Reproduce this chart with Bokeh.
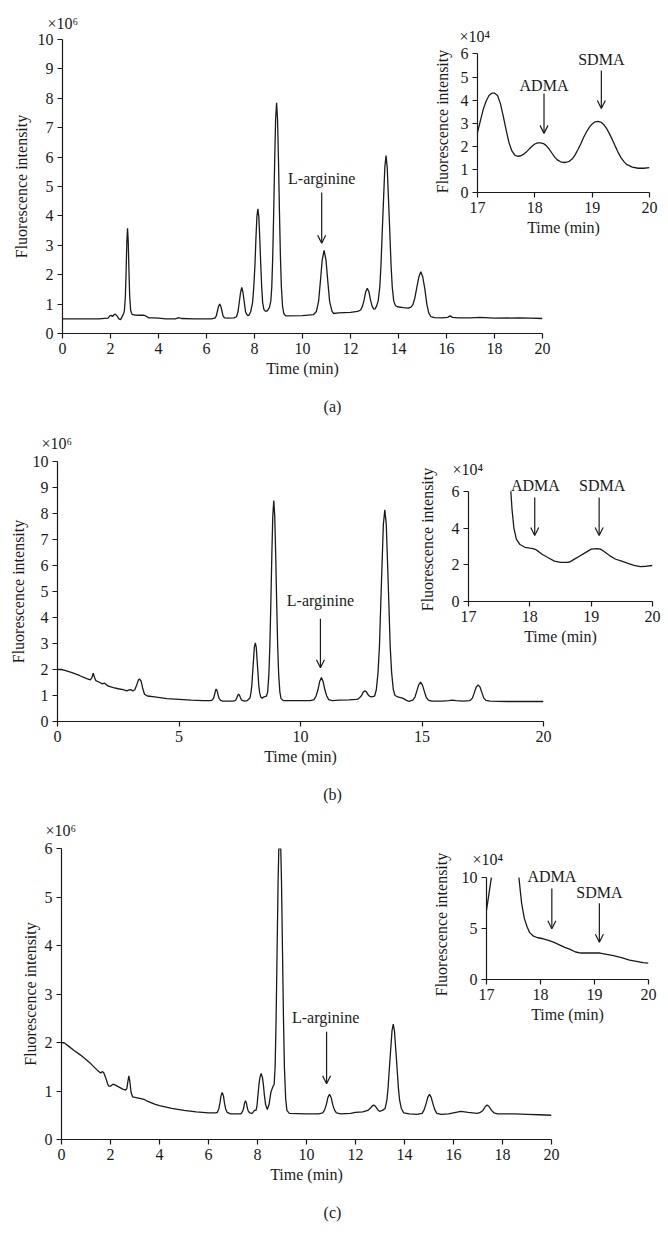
from bokeh.plotting import figure
from bokeh.layouts import row, column
from bokeh.models import Range1d, Label, Arrow, OpenHead, FixedTicker
from bokeh.embed import file_html
from bokeh.resources import INLINE

# ---------------- data ----------------
# Panel (a) main chromatogram, time (min) and intensity (x10^6)
a_time = [0, 1.0, 1.5, 1.9, 1.97, 2.03, 2.08, 2.15, 2.2, 2.27, 2.35, 2.42, 2.5, 2.55,
          2.58, 2.62, 2.65, 2.68, 2.71, 2.74, 2.77, 2.8, 2.84, 2.9, 3.0, 3.2, 3.4, 3.5, 3.6,
          3.8, 4.0, 4.3, 4.7, 4.85, 4.95, 5.5, 6.2, 6.35, 6.41, 6.45, 6.5, 6.55, 6.6, 6.65,
          6.69, 6.75, 6.9, 7.15, 7.25, 7.31, 7.36, 7.42, 7.47, 7.52, 7.58, 7.63, 7.7, 7.77,
          7.84, 7.92, 7.97, 8.02, 8.06, 8.10, 8.14, 8.18, 8.22, 8.26, 8.3, 8.34, 8.39, 8.46,
          8.54, 8.62, 8.68, 8.72, 8.76, 8.8, 8.84, 8.88, 8.92, 8.96, 9.0, 9.04, 9.08, 9.12,
          9.17, 9.22, 9.3, 10.0, 10.45, 10.58, 10.67, 10.74, 10.82, 10.9, 10.98, 11.06, 11.13,
          11.23, 11.3, 11.5, 12.0, 12.3, 12.42, 12.5, 12.57, 12.63, 12.7, 12.77, 12.83, 12.9,
          12.97, 13.03, 13.09, 13.155, 13.22, 13.27, 13.32, 13.38, 13.43, 13.48, 13.53, 13.58,
          13.64, 13.69, 13.74, 13.8, 13.87, 13.95, 14.2, 14.4, 14.52, 14.6, 14.68, 14.76,
          14.85, 14.93, 15.01, 15.1, 15.18, 15.26, 15.35, 15.5, 15.8, 16.05, 16.15, 16.25,
          16.5, 17.0, 17.4, 18.0, 19.0, 19.5, 20.0]
a_signal = [0.5, 0.5, 0.5, 0.52, 0.6, 0.62, 0.58, 0.64, 0.66, 0.6, 0.5, 0.47, 0.6, 0.68,
            0.78, 1.26, 2.09, 3.1, 3.58, 3.1, 2.09, 1.26, 0.78, 0.65, 0.63, 0.62, 0.62, 0.58,
            0.53, 0.53, 0.52, 0.5, 0.5, 0.54, 0.51, 0.5, 0.5, 0.52, 0.6, 0.74, 0.92, 1.0, 0.92,
            0.74, 0.6, 0.53, 0.52, 0.53, 0.57, 0.73, 1.03, 1.4, 1.57, 1.4, 1.03, 0.73, 0.62,
            0.62, 0.74, 1.05, 1.58, 2.35, 3.24, 3.97, 4.24, 3.97, 3.24, 2.35, 1.58, 1.05, 0.82,
            0.75, 0.78, 0.88, 1.1, 1.58, 2.62, 4.13, 5.86, 7.29, 7.85, 7.29, 5.86, 4.13, 2.62,
            1.58, 0.92, 0.68, 0.6, 0.61, 0.64, 0.75, 1.09, 1.72, 2.49, 2.83, 2.49, 1.72, 1.09,
            0.75, 0.68, 0.7, 0.72, 0.75, 0.8, 0.93, 1.15, 1.41, 1.54, 1.41, 1.15, 0.93, 0.83,
            0.84, 0.94, 1.11, 1.58, 2.32, 3.4, 4.63, 5.65, 6.05, 5.65, 4.63, 3.4, 2.32, 1.58,
            1.11, 0.95, 0.91, 0.88, 0.86, 0.9, 0.98, 1.2, 1.55, 1.93, 2.1, 1.93, 1.5, 1.0, 0.7,
            0.57, 0.54, 0.53, 0.55, 0.6, 0.55, 0.53, 0.53, 0.55, 0.52, 0.53, 0.52, 0.51]

# Panel (a) inset, time (min) and intensity (x10^4)
a_inset_time = [17.0, 17.05, 17.1, 17.15, 17.2, 17.25, 17.3, 17.35, 17.4, 17.45, 17.5, 17.55,
                17.6, 17.65, 17.7, 17.75, 17.8, 17.85, 17.9, 17.95, 18.0, 18.05, 18.1, 18.15,
                18.2, 18.25, 18.3, 18.35, 18.4, 18.45, 18.5, 18.55, 18.6, 18.65, 18.7, 18.75,
                18.8, 18.85, 18.9, 18.95, 19.0, 19.05, 19.1, 19.15, 19.2, 19.25, 19.3, 19.35,
                19.4, 19.45, 19.5, 19.55, 19.6, 19.7, 19.8, 19.9, 20.0]
a_inset_signal = [2.6, 3.1, 3.6, 3.95, 4.2, 4.3, 4.3, 4.2, 3.85, 3.3, 2.7, 2.15, 1.8, 1.62,
                  1.57, 1.58, 1.65, 1.75, 1.88, 2.0, 2.1, 2.15, 2.15, 2.12, 2.03, 1.88, 1.7,
                  1.52, 1.4, 1.33, 1.3, 1.31, 1.35, 1.45, 1.62, 1.85, 2.1, 2.38, 2.62, 2.82,
                  2.97, 3.06, 3.08, 3.05, 2.95, 2.78, 2.55, 2.3, 2.02, 1.75, 1.52, 1.35, 1.22,
                  1.1, 1.05, 1.05, 1.08]

# Panel (b) main chromatogram
b_time = [0, 0.15, 0.3, 0.6, 0.9, 1.2, 1.35, 1.42, 1.47, 1.52, 1.58, 1.7, 1.85, 1.93, 2.0,
          2.1, 2.3, 2.5, 2.7, 2.85, 2.95, 3.02, 3.1, 3.18, 3.26, 3.33, 3.38, 3.44, 3.5, 3.58,
          3.7, 4.0, 4.5, 5.0, 5.5, 6.0, 6.3, 6.36, 6.42, 6.46, 6.5, 6.53, 6.57, 6.61, 6.65,
          6.71, 6.8, 7.2, 7.28, 7.34, 7.38, 7.42, 7.45, 7.49, 7.53, 7.57, 7.63, 7.7, 7.8, 7.92,
          7.96, 8.0, 8.03, 8.07, 8.10, 8.14, 8.18, 8.21, 8.25, 8.28, 8.32, 8.37, 8.42, 8.5,
          8.6, 8.65, 8.7, 8.74, 8.78, 8.82, 8.86, 8.9, 8.94, 8.98, 9.02, 9.06, 9.1, 9.15, 9.2,
          9.3, 10.0, 10.4, 10.56, 10.64, 10.72, 10.79, 10.86, 10.93, 11.0, 11.08, 11.16, 11.3,
          11.6, 12.0, 12.3, 12.38, 12.45, 12.52, 12.58, 12.65, 12.72, 12.78, 12.85, 12.92,
          13.05, 13.12, 13.19, 13.25, 13.3, 13.36, 13.41, 13.47, 13.53, 13.58, 13.64, 13.69,
          13.75, 13.82, 13.89, 14.0, 14.2, 14.35, 14.46, 14.62, 14.71, 14.78, 14.86, 14.94,
          15.02, 15.1, 15.17, 15.26, 15.4, 15.8, 16.1, 16.25, 16.4, 16.7, 16.95, 17.0, 17.08,
          17.15, 17.23, 17.31, 17.39, 17.47, 17.54, 17.63, 17.8, 18.5, 19.0, 19.5, 20.0]
b_signal = [2.0, 2.0, 1.97, 1.88, 1.77, 1.65, 1.6, 1.7, 1.86, 1.7, 1.57, 1.52, 1.45, 1.48,
            1.42, 1.36, 1.3, 1.26, 1.23, 1.18, 1.22, 1.23, 1.17, 1.22, 1.4, 1.6, 1.63, 1.55,
            1.3, 1.05, 0.98, 0.95, 0.88, 0.85, 0.82, 0.8, 0.8, 0.82, 0.89, 1.02, 1.18, 1.25,
            1.18, 1.02, 0.89, 0.81, 0.78, 0.78, 0.79, 0.83, 0.91, 1.01, 1.05, 1.01, 0.91, 0.83,
            0.8, 0.78, 0.8, 0.9, 1.1, 1.42, 1.88, 2.41, 2.85, 3.02, 2.85, 2.41, 1.88, 1.42, 1.1,
            0.93, 0.9, 0.95, 0.98, 1.14, 1.84, 2.94, 4.55, 6.39, 7.9, 8.5, 7.9, 6.39, 4.55,
            2.94, 1.84, 1.14, 0.88, 0.8, 0.8, 0.8, 0.84, 0.98, 1.23, 1.54, 1.69, 1.54, 1.23,
            0.98, 0.84, 0.8, 0.82, 0.83, 0.85, 0.87, 0.93, 1.01, 1.13, 1.18, 1.13, 1.03, 0.97,
            0.95, 0.98, 1.22, 1.88, 2.91, 4.43, 6.16, 7.58, 8.14, 7.58, 6.16, 4.43, 2.91, 1.88,
            1.22, 1.0, 0.95, 0.9, 0.82, 0.77, 0.82, 0.94, 1.15, 1.4, 1.52, 1.4, 1.15, 0.94,
            0.82, 0.78, 0.78, 0.8, 0.82, 0.8, 0.78, 0.8, 0.82, 0.91, 1.1, 1.32, 1.41, 1.32, 1.1,
            0.91, 0.81, 0.78, 0.77, 0.77, 0.77, 0.77]

# Panel (b) inset
b_inset_time = [17.69, 17.71, 17.74, 17.78, 17.84, 17.92, 18.0, 18.05, 18.1, 18.15, 18.2,
                18.3, 18.4, 18.5, 18.6, 18.65, 18.7, 18.8, 18.9, 19.0, 19.1, 19.15, 19.2, 19.3,
                19.4, 19.5, 19.6, 19.7, 19.8, 19.9, 20.0]
b_inset_signal = [6.0, 5.0, 4.0, 3.4, 3.1, 2.95, 2.9, 2.88, 2.82, 2.7, 2.57, 2.38, 2.2, 2.13,
                  2.13, 2.15, 2.25, 2.45, 2.65, 2.85, 2.88, 2.85, 2.75, 2.5, 2.3, 2.2, 2.08,
                  1.97, 1.9, 1.92, 1.96]

# Panel (c) main chromatogram
c_time = [0, 0.12, 0.3, 0.5, 0.78, 1.0, 1.2, 1.46, 1.6, 1.66, 1.72, 1.8, 1.88, 1.93, 2.0,
          2.1, 2.2, 2.35, 2.5, 2.62, 2.67, 2.71, 2.75, 2.79, 2.84, 2.9, 3.0, 3.2, 3.4, 3.5,
          3.8, 4.0, 4.5, 5.0, 5.5, 6.0, 6.3, 6.36, 6.42, 6.47, 6.51, 6.56, 6.61, 6.65, 6.7,
          6.76, 6.9, 7.3, 7.34, 7.4, 7.44, 7.47, 7.51, 7.55, 7.58, 7.62, 7.68, 7.78, 7.88,
          7.94, 7.98, 8.02, 8.06, 8.1, 8.15, 8.2, 8.24, 8.28, 8.33, 8.4, 8.47, 8.55, 8.62,
          8.68, 8.72, 8.76, 8.8, 8.84, 8.87, 8.95, 8.98, 9.02, 9.06, 9.1, 9.15, 9.2, 9.3, 10.0,
          10.5, 10.66, 10.74, 10.81, 10.87, 10.94, 11.01, 11.07, 11.14, 11.22, 11.4, 11.8,
          12.0, 12.3, 12.5, 12.55, 12.63, 12.7, 12.75, 12.82, 12.9, 12.98, 13.1, 13.21, 13.28,
          13.33, 13.38, 13.44, 13.49, 13.54, 13.59, 13.64, 13.7, 13.75, 13.8, 13.87, 13.97,
          14.2, 14.5, 14.72, 14.8, 14.87, 14.95, 15.02, 15.09, 15.17, 15.24, 15.32, 15.5,
          15.8, 16.0, 16.3, 16.6, 16.97, 17.1, 17.2, 17.3, 17.37, 17.45, 17.55, 17.65, 17.8,
          18.5, 19.0, 19.5, 20.0]
c_signal = [2.0, 1.99, 1.92, 1.84, 1.74, 1.65, 1.56, 1.43, 1.37, 1.4, 1.38, 1.28, 1.15, 1.1,
            1.1, 1.14, 1.12, 1.08, 1.04, 1.02, 1.06, 1.2, 1.31, 1.2, 0.97, 0.88, 0.87, 0.85,
            0.82, 0.79, 0.73, 0.7, 0.64, 0.6, 0.57, 0.55, 0.55, 0.56, 0.63, 0.76, 0.9, 0.97,
            0.9, 0.76, 0.63, 0.56, 0.53, 0.53, 0.54, 0.59, 0.66, 0.75, 0.8, 0.75, 0.66, 0.59,
            0.55, 0.54, 0.6, 0.6, 0.7, 0.92, 1.13, 1.28, 1.36, 1.28, 1.13, 0.92, 0.72, 0.62,
            0.72, 0.98, 1.08, 1.14, 1.5, 2.5, 3.9, 5.3, 6.0, 6.0, 5.3, 3.9, 2.5, 1.47, 0.84,
            0.6, 0.54, 0.53, 0.53, 0.55, 0.61, 0.72, 0.86, 0.93, 0.86, 0.72, 0.61, 0.55, 0.53,
            0.54, 0.56, 0.57, 0.6, 0.62, 0.66, 0.7, 0.71, 0.68, 0.62, 0.58, 0.6, 0.64, 0.81,
            1.07, 1.45, 1.88, 2.24, 2.38, 2.24, 1.88, 1.45, 1.07, 0.81, 0.64, 0.55, 0.53, 0.52,
            0.54, 0.61, 0.72, 0.87, 0.93, 0.87, 0.72, 0.61, 0.54, 0.52, 0.53, 0.55, 0.58, 0.56,
            0.54, 0.56, 0.6, 0.68, 0.71, 0.68, 0.6, 0.55, 0.53, 0.53, 0.52, 0.51, 0.5]

# Panel (c) inset (trace leaves the top of the box between the two pieces)
c_inset_time_1 = [17.0, 17.09]
c_inset_signal_1 = [6.8, 10.0]
c_inset_time_2 = [17.6, 17.65, 17.7, 17.75, 17.8, 17.87, 17.95, 18.05, 18.15, 18.25, 18.35,
                  18.45, 18.55, 18.65, 18.75, 18.9, 19.0, 19.1, 19.2, 19.35, 19.5, 19.65,
                  19.8, 19.9, 20.0]
c_inset_signal_2 = [10.0, 7.5, 6.0, 5.2, 4.6, 4.25, 4.1, 4.0, 3.85, 3.65, 3.4, 3.15, 2.95,
                    2.7, 2.6, 2.6, 2.62, 2.6, 2.5, 2.35, 2.15, 1.9, 1.75, 1.65, 1.6]

# tick positions
a_xticks = [0, 2, 4, 6, 8, 10, 12, 14, 16, 18, 20]
a_yticks = [0, 1, 2, 3, 4, 5, 6, 7, 8, 9, 10]
b_xticks = [0, 5, 10, 15, 20]
b_yticks = [0, 1, 2, 3, 4, 5, 6, 7, 8, 9, 10]
c_xticks = [0, 2, 4, 6, 8, 10, 12, 14, 16, 18, 20]
c_yticks = [0, 1, 2, 3, 4, 5, 6]
inset_xticks = [17, 18, 19, 20]
a_inset_yticks = [0, 1, 2, 3, 4, 5, 6]
b_inset_yticks = [0, 2, 4, 6]
c_inset_yticks = [0, 5, 10]

# ---------------- styling helpers ----------------
FONT = "Liberation Serif"
FS = "16px"
INK = "#1a1a1a"


def make_fig(fw, fh, bl, bt, br, bb, xr, yr, xt, yt, ybounds, ylab_standoff,
             exp_text, exp_offset, exp_standoff, transparent=False, margin=None):
    kw = {}
    if margin is not None:
        kw["margin"] = margin
    p = figure(frame_width=fw, frame_height=fh, min_border_left=bl, min_border_top=bt,
               min_border_right=br, min_border_bottom=bb,
               x_range=Range1d(*xr), y_range=Range1d(*yr),
               output_backend="svg", toolbar_location=None, **kw)
    # the figure's own title carries the "x10^n" multiplier at the top-left
    p.title.text = exp_text
    p.title.align = "left"
    p.title.offset = exp_offset
    p.title.standoff = exp_standoff
    p.title.text_font = FONT
    p.title.text_font_size = FS
    p.title.text_font_style = "normal"
    p.title.text_color = INK
    p.xgrid.visible = False
    p.ygrid.visible = False
    p.outline_line_color = None
    if transparent:
        p.background_fill_alpha = 0
        p.border_fill_alpha = 0
    p.xaxis.ticker = FixedTicker(ticks=xt)
    p.yaxis.ticker = FixedTicker(ticks=yt)
    p.yaxis.bounds = ybounds
    for ax in (p.xaxis[0], p.yaxis[0]):
        ax.axis_line_color = INK
        ax.axis_line_width = 1.2
        ax.major_tick_line_color = INK
        ax.major_tick_line_width = 1.2
        ax.major_tick_out = 5
        ax.major_tick_in = 0
        ax.minor_tick_line_color = None
        ax.major_label_text_font = FONT
        ax.major_label_text_font_size = FS
        ax.major_label_text_color = INK
        ax.major_label_standoff = 4
        ax.axis_label_text_font = FONT
        ax.axis_label_text_font_size = FS
        ax.axis_label_text_font_style = "normal"
        ax.axis_label_text_color = INK
    p.xaxis.axis_label = "Time (min)"
    p.yaxis.axis_label = "Fluorescence intensity"
    p.xaxis.axis_label_standoff = 3
    p.yaxis.axis_label_standoff = ylab_standoff
    return p


def caption(s, h):
    p = figure(width=664, height=h, x_range=Range1d(0, 1), y_range=Range1d(0, 1),
               x_axis_type=None, y_axis_type=None, title=None,
               min_border_left=0, min_border_right=0, min_border_top=0, min_border_bottom=0,
               output_backend="svg", toolbar_location=None)
    p.xgrid.visible = False
    p.ygrid.visible = False
    p.outline_line_color = None
    p.add_layout(Label(x=0.5, y=0.5, text=s, text_font=FONT, text_font_size=FS,
                       text_align="center", text_baseline="middle", text_color=INK))
    return p


def txt(p, x, y, s):
    p.add_layout(Label(x=x, y=y, text=s, text_font=FONT, text_font_size=FS,
                       text_align="center", text_baseline="middle", text_color=INK))


def arrow(p, x, y0, y1):
    p.add_layout(Arrow(end=OpenHead(size=8, line_color=INK, line_width=1.2),
                       x_start=x, y_start=y0, x_end=x, y_end=y1,
                       line_color=INK, line_width=1.2))


# In a Bokeh row the plots share their top border, so each inset uses the same
# top border as its main panel and is pushed into place with a CSS margin.

# ---------------- panel (a) ----------------
pa = make_fig(480, 294, 62, 39, 20, 60, (0, 20), (0, 10), a_xticks, a_yticks, (0, 10), 5,
              "×10⁶", -15, 16)
pa.line(a_time, a_signal, line_color=INK, line_width=1.3)
txt(pa, 10.8, 5.27, "L-arginine")
arrow(pa, 10.8, 4.8, 3.07)

ia = make_fig(172, 142, 57, 39, 10, 62, (17, 20), (0, 6.15), inset_xticks, a_inset_yticks,
              (0, 6), 7, "×10⁴", -18, 11, transparent=True, margin=(11, 0, 0, -142))
ia.line(a_inset_time, a_inset_signal, line_color=INK, line_width=1.3)
txt(ia, 18.16, 4.63, "ADMA")
arrow(ia, 18.16, 4.29, 2.56)
txt(ia, 19.16, 5.78, "SDMA")
arrow(ia, 19.16, 5.28, 3.64)

cap_a = caption("(a)", 26)

# ---------------- panel (b) ----------------
pb = make_fig(486, 260, 57, 42, 20, 60, (0, 20), (0, 10), b_xticks, b_yticks, (0, 10), 3,
              "×10⁶", -16, 19)
pb.line(b_time, b_signal, line_color=INK, line_width=1.3)
txt(pb, 10.82, 4.65, "L-arginine")
arrow(pb, 10.82, 3.95, 2.07)

ib = make_fig(184, 124, 51, 42, 9, 62, (17, 20), (0, 6.75), inset_xticks, b_inset_yticks,
              (0, 6), 13, "×10⁴", -16, 0, transparent=True, margin=(16, 0, 0, -148))
ib.line(b_inset_time, b_inset_signal, line_color=INK, line_width=1.3)
txt(ib, 18.09, 6.31, "ADMA")
arrow(ib, 18.08, 5.66, 3.59)
txt(ib, 19.18, 6.31, "SDMA")
arrow(ib, 19.13, 5.66, 3.59)

cap_b = caption("(b)", 25)

# ---------------- panel (c) ----------------
pc = make_fig(490, 291, 61, 42, 10, 60, (0, 20), (0, 6), c_xticks, c_yticks, (0, 6), 3,
              "×10⁶", -16, 19)
pc.line(c_time, c_signal, line_color=INK, line_width=1.3)
txt(pc, 10.78, 2.52, "L-arginine")
arrow(pc, 10.82, 2.22, 1.15)

ic = make_fig(162, 110, 61, 42, 11, 62, (17, 20), (0, 10.8), inset_xticks, c_inset_yticks,
              (0, 10), 9, "×10⁴", -14, 3, transparent=True, margin=(21, 0, 0, -136))
ic.line(c_inset_time_1, c_inset_signal_1, line_color=INK, line_width=1.3)
ic.line(c_inset_time_2, c_inset_signal_2, line_color=INK, line_width=1.3)
txt(ic, 18.21, 10.11, "ADMA")
arrow(ic, 18.21, 8.94, 4.98)
txt(ic, 19.09, 8.57, "SDMA")
arrow(ic, 19.09, 7.49, 3.66)

cap_c = caption("(c)", 25)

layout = column(row(pa, ia), cap_a, row(pb, ib), cap_b, row(pc, ic), cap_c)

open("out.html", "w").write(file_html(layout, INLINE))
